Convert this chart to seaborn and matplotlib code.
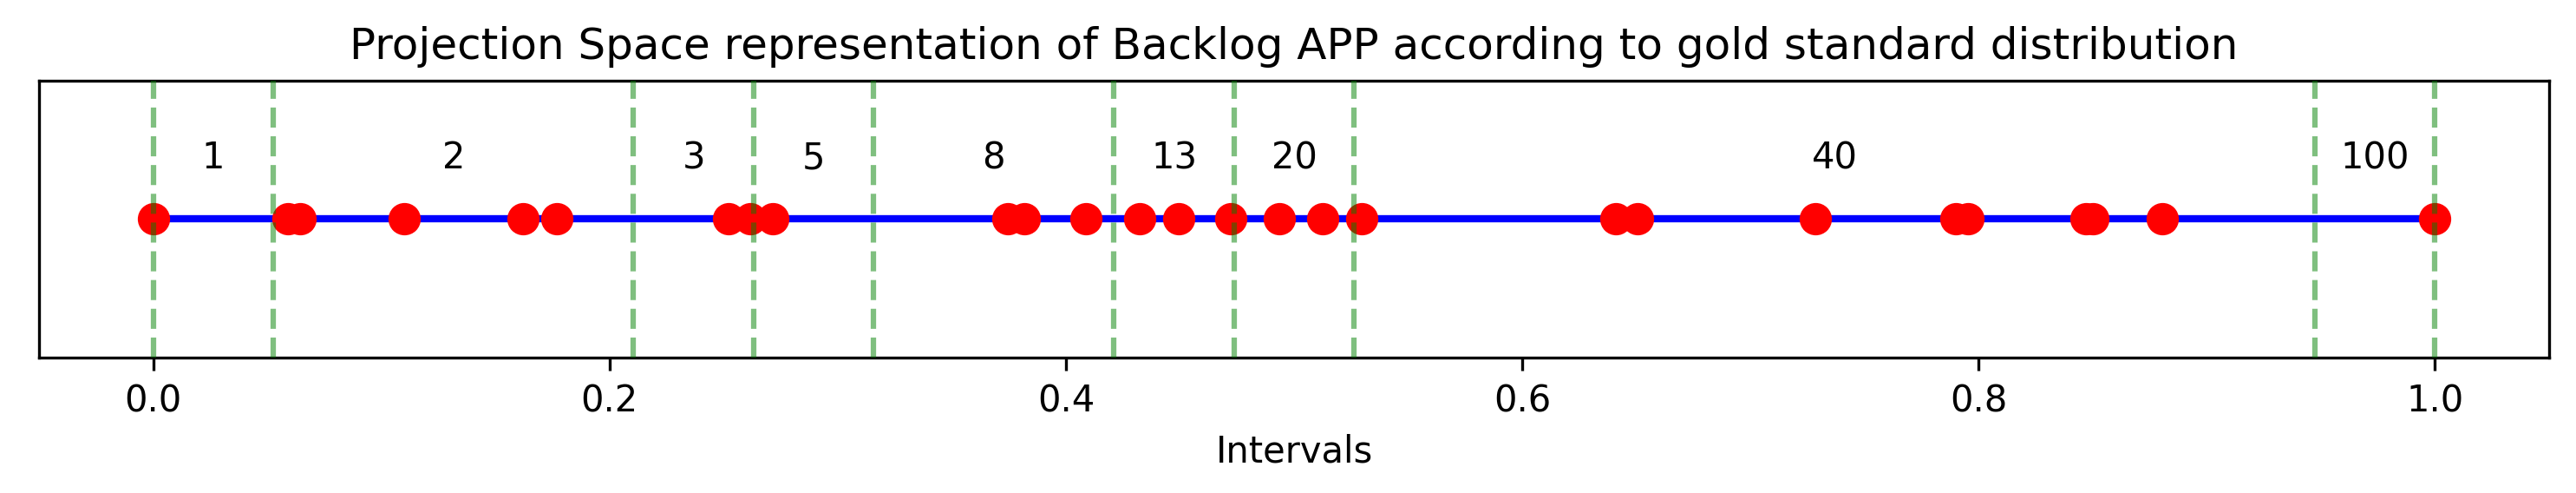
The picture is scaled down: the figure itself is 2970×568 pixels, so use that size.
import numpy as np
import pandas as pd
import seaborn as sns
import matplotlib.pyplot as plt

# Data
points = [0.0, 0.059, 0.0645, 0.110, 0.162, 0.177, 0.252, 0.2615, 0.2717,
          0.3744, 0.3819, 0.4087, 0.4322, 0.4493, 0.4724, 0.4937, 0.5125,
          0.5296, 0.641, 0.6505, 0.7283, 0.7899, 0.7955, 0.8471, 0.8502,
          0.8803, 1.0]
boundaries = [0.0, 1 / 19, 4 / 19, 5 / 19, 6 / 19, 8 / 19, 9 / 19, 10 / 19, 18 / 19, 1.0]
interval_labels = ["1", "2", "3", "5", "8", "13", "20", "40", "100"]

plt.rcdefaults()
fig = plt.figure(figsize=(9.9, 568 / 300), dpi=300)
ax = fig.add_axes([45 / 2970, 1 - 412 / 568, (2939 - 45) / 2970, (412 - 92.7) / 568])

# Blue base line
line_df = pd.DataFrame({"x": [0.0, 1.0], "y": [0.0, 0.0]})
sns.lineplot(data=line_df, x="x", y="y", color="blue", linewidth=2, ax=ax, zorder=2)

# Red projected points
pts_df = pd.DataFrame({"x": points, "y": np.zeros(len(points))})
sns.scatterplot(data=pts_df, x="x", y="y", color="red", s=80, linewidth=0, ax=ax, zorder=3)

# Interval boundaries
for b in boundaries:
    ax.axvline(b, color="g", linestyle="--", alpha=0.5, linewidth=1.5, zorder=4)

# Interval labels at midpoints
for lo, hi, lab in zip(boundaries[:-1], boundaries[1:], interval_labels):
    ax.text((lo + hi) / 2, 0.44, lab, ha="center", va="center", fontsize=10)

ax.set_xlim(-0.05, 1.05)
ax.set_ylim(-1, 1)
ax.set_yticks([])
ax.set_ylabel("")
ax.set_xlabel("Intervals")
ax.set_title("Projection Space representation of Backlog APP according to gold standard distribution")

fig.savefig("out.png", dpi=300)
